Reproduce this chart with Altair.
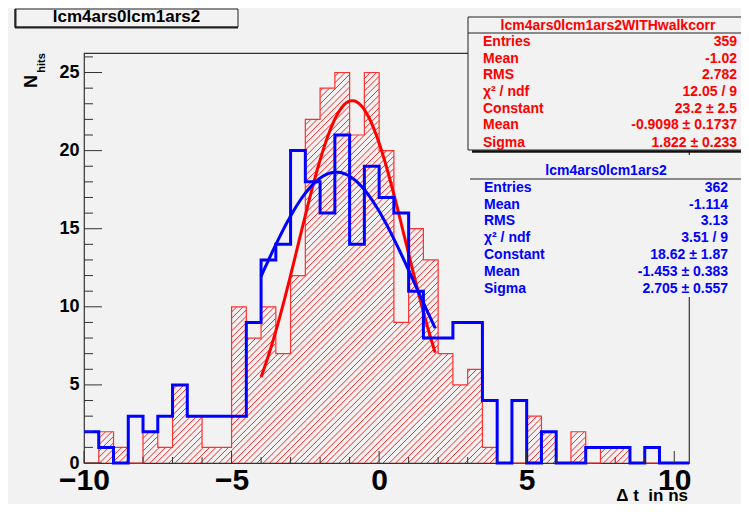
import altair as alt
import numpy as np
import pandas as pd

# ---------------- data ----------------
x_lo, x_hi, bin_w = -10.0, 10.5, 0.5
y_top = 26.25
bin_left = [x_lo + i * bin_w for i in range(41)]

red_counts = [0, 2, 1, 0, 2, 1, 5, 3, 1, 1,
              10, 8, 10, 7, 12, 22, 24, 25, 21, 25,
              20, 9, 15, 13, 7, 5, 6, 1, 0, 0,
              3, 2, 0, 2, 0, 1, 1, 0, 0, 0,
              0]
blue_counts = [2, 1, 0, 3, 2, 3, 5, 3, 3, 3,
               3, 9, 13, 14, 20, 18, 16, 21, 14, 19,
               17, 16, 11, 8, 8, 9, 9, 4, 0, 4,
               0, 2, 0, 0, 1, 1, 1, 0, 1, 0,
               0]

# Gaussian fit parameters shown in the stat boxes
red_fit = dict(const=23.2, mean=-0.9098, sigma=1.822)
blue_fit = dict(const=18.62, mean=-1.453, sigma=2.705)
fit_range = (-4.0, 1.9)

x_tick_labels = [-10, -5, 0, 5, 10]
y_tick_labels = [0, 5, 10, 15, 20, 25]

red_stats = [("Entries", "359"), ("Mean", "-1.02"), ("RMS", "2.782"),
             ("χ² / ndf", "12.05 / 9"), ("Constant", "23.2 ± 2.5"),
             ("Mean", "-0.9098 ± 0.1737"), ("Sigma", "1.822 ± 0.233")]
blue_stats = [("Entries", "362"), ("Mean", "-1.114"), ("RMS", "3.13"),
              ("χ² / ndf", "3.51 / 9"), ("Constant", "18.62 ± 1.87"),
              ("Mean", "-1.453 ± 0.383"), ("Sigma", "2.705 ± 0.557")]

# ---------------- layout ----------------
W, H = 605, 410
BG = "#f2f2f2"
FONT = "Liberation Sans"
RED = "#ff0000"
BLUE = "#0000ff"
NB = "\u00a0"

xscale = alt.Scale(domain=[x_lo, x_hi], nice=False, zero=False)
yscale = alt.Scale(domain=[0, y_top], nice=False, zero=False)

# step tables
def step_df(counts):
    xs = bin_left + [x_hi]
    ys = list(counts) + [counts[-1]]
    return pd.DataFrame({"x": xs, "y": ys})

red_df = step_df(red_counts)
blue_df = step_df(blue_counts)

# hatch segments (45 degree in pixel space) clipped to each red bar
px_x = W / (x_hi - x_lo)
px_y = H / y_top
k = px_x / px_y
spacing = 6.3 / px_x
cs = np.arange(-40.0, 12.0, spacing)
segs = []
for i, h in enumerate(red_counts):
    if h <= 0:
        continue
    x0 = bin_left[i]
    x1 = x0 + bin_w
    for c in cs:
        xa = max(x0, c)
        xb = min(x1, c + h / k)
        if xb > xa + 1e-9:
            segs.append((xa, k * (xa - c), xb, k * (xb - c)))
hatch_df = pd.DataFrame(segs, columns=["x0", "y0", "x1", "y1"])

# fit curves
xf = np.linspace(fit_range[0], fit_range[1], 120)
def gauss(p):
    return p["const"] * np.exp(-0.5 * ((xf - p["mean"]) / p["sigma"]) ** 2)
red_fit_df = pd.DataFrame({"x": xf, "y": gauss(red_fit)})
blue_fit_df = pd.DataFrame({"x": xf, "y": gauss(blue_fit)})

# ---------------- layers ----------------
xaxis = alt.Axis(values=x_tick_labels, labelFontSize=30, labelFont=FONT, labelFontWeight="bold",
                 labelColor="black", labelPadding=2, ticks=False, tickSize=0, domain=False,
                 grid=False, title=None, labelFlush=False, labelOverlap=False)
yaxis = alt.Axis(values=y_tick_labels, labelFontSize=18, labelFont=FONT, labelFontWeight="bold",
                 labelColor="black", labelPadding=5, ticks=False, tickSize=0, domain=False,
                 grid=False, title=None, labelOverlap=False)

hatch = alt.Chart(hatch_df).mark_rule(color=RED, strokeWidth=1, opacity=0.85).encode(
    x=alt.X("x0:Q", scale=xscale, axis=xaxis),
    y=alt.Y("y0:Q", scale=yscale, axis=yaxis),
    x2="x1:Q", y2="y1:Q")

red_line = alt.Chart(red_df).mark_line(interpolate="step-after", color="#ff3030", strokeWidth=1.2).encode(
    x=alt.X("x:Q", scale=xscale), y=alt.Y("y:Q", scale=yscale))
blue_line = alt.Chart(blue_df).mark_line(interpolate="step-after", color=BLUE, strokeWidth=3).encode(
    x=alt.X("x:Q", scale=xscale), y=alt.Y("y:Q", scale=yscale))
red_curve = alt.Chart(red_fit_df).mark_line(color=RED, strokeWidth=3).encode(
    x=alt.X("x:Q", scale=xscale), y=alt.Y("y:Q", scale=yscale))
blue_curve = alt.Chart(blue_fit_df).mark_line(color=BLUE, strokeWidth=3).encode(
    x=alt.X("x:Q", scale=xscale), y=alt.Y("y:Q", scale=yscale))

# inward ticks
y_major = [v for v in range(0, 26) if v % 5 == 0]
y_minor = [v for v in range(0, 27) if v % 5 != 0]
x_major = [v for v in range(-10, 11) if v % 5 == 0]
x_minor = [v for v in range(-10, 11) if v % 5 != 0]
TICK = "#333333"
def yticks(vals, length):
    return alt.Chart(pd.DataFrame({"v": vals})).mark_rule(color=TICK, strokeWidth=1).encode(
        y=alt.Y("v:Q", scale=yscale), x=alt.value(0), x2=alt.value(length))
def xticks(vals, length):
    return alt.Chart(pd.DataFrame({"v": vals})).mark_rule(color=TICK, strokeWidth=1).encode(
        x=alt.X("v:Q", scale=xscale), y=alt.value(H), y2=alt.value(H - length))

dummy = alt.Data(values=[{"d": 0}])

def text(x, y, s, color="black", size=14, align="left", baseline="alphabetic", angle=None):
    kw = dict(align=align, baseline=baseline, fontSize=size, fontWeight="bold", font=FONT, color=color)
    if angle is not None:
        kw["angle"] = angle
    return alt.Chart(dummy).mark_text(**kw).encode(x=alt.value(x), y=alt.value(y), text=alt.value(s))

def rect(x0, x1, y0, y1, fill=BG, stroke=None, sw=1):
    kw = dict(fill=fill)
    if stroke:
        kw.update(stroke=stroke, strokeWidth=sw)
    else:
        kw.update(strokeWidth=0)
    return alt.Chart(dummy).mark_rect(**kw).encode(
        x=alt.value(x0), x2=alt.value(x1), y=alt.value(y0), y2=alt.value(y1))

def rule(x0, x1, y0, y1, color="#222222", sw=1):
    return alt.Chart(dummy).mark_rule(color=color, strokeWidth=sw).encode(
        x=alt.value(x0), x2=alt.value(x1), y=alt.value(y0), y2=alt.value(y1))

ann = []
# title box
ann += [rect(-69, 154, -44, -26, stroke="#222222"),
        rule(-68.5, -68.5, -44, -25, sw=2),
        rule(-69, 154, -25.5, -25.5, sw=2),
        text(42.5, -31, "lcm4ars0lcm1ars2", size=17, align="center")]
# red stat box
ann += [rect(384, 700, -36, 97, stroke="#222222"),
        rule(388, 700, 98.5, 98.5, color="#111111", sw=2.5),
        rule(384, 700, -20, -20),
        text(524, -23, "lcm4ars0lcm1ars2WITHwalkcorr", color=RED, size=14, align="center")]
red_rows_y = [-7, 9.7, 26.3, 43, 59.7, 76.3, 93.7]
for (lab, val), yy in zip(red_stats, red_rows_y):
    ann += [text(399, yy, lab, color=RED, size=14), text(653, yy, val, color=RED, size=14, align="right")]
# blue stat box
ann += [rect(386, 661, 102, 244),
        rule(386, 659, 126, 126),
        text(522, 122, "lcm4ars0lcm1ars2", color=BLUE, size=14, align="center")]
blue_rows_y = [139, 155.5, 172, 189, 206, 222.6, 240]
for (lab, val), yy in zip(blue_stats, blue_rows_y):
    ann += [text(400, yy, lab, color=BLUE, size=14), text(644, yy, val, color=BLUE, size=14, align="right")]
# axis titles
ann += [text(604, 447.5, "Δ" + NB + "t" + NB + NB + "in" + NB + "ns", size=17, align="right"),
        text(-47, 28.5, "N", size=18, align="center", angle=270),
        text(-39, 10, "hits", size=11, align="center", angle=270)]

chart = alt.layer(
    hatch, red_line, red_curve, blue_line, blue_curve,
    yticks(y_major, 18), yticks(y_minor, 9), xticks(x_major, 12), xticks(x_minor, 6),
    *ann
).properties(
    width=W, height=H, background=BG,
    padding={"left": 76, "top": 45, "right": 52, "bottom": 41},
    autosize=alt.AutoSizeParams(type="none"),
).configure_view(stroke="#333333", strokeWidth=1.2)

chart.save("out.html", embed_options={"renderer": "svg", "actions": False})
